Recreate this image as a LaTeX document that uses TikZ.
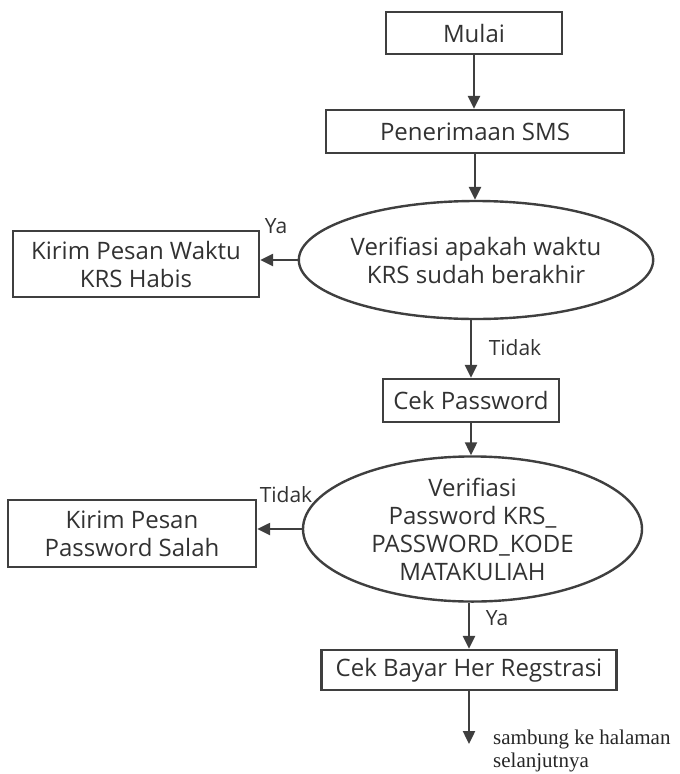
\documentclass[tikz,border=0pt]{standalone}
\usepackage{fontspec}
\setmainfont{Open Sans}
\newfontfamily\seriffont{Liberation Serif}
\usepackage{tikz}
\usetikzlibrary{shapes,arrows,positioning,calc,arrows.meta}
\definecolor{garis}{HTML}{3F3F3F}

\begin{document}
\begin{tikzpicture}[x=1pt, y=-1pt,
    line width=2.4pt, draw=garis,
    font=\fontsize{24}{28}\selectfont,
    box/.style={draw=garis, rectangle, align=center, inner sep=0pt, text=garis!80!black},
    cond/.style={draw=garis, ellipse, align=center, inner sep=0pt, text=garis!80!black},
    arr/.style={-{Triangle[length=13pt,width=12pt]}, draw=garis},
    lbl/.style={font=\fontsize{21}{24}\selectfont, text=garis!80!black}]
    \useasboundingbox (0,0) rectangle (680,774);

    \node [box, minimum width=176, minimum height=42] (mulai) at (474,33) {Mulai};
    \node [box, minimum width=298, minimum height=43] (sms) at (475,131.5) {Penerimaan SMS};
    \node [cond, minimum width=338, minimum height=118] (cekwaktu) at (476,260) {Verifiasi apakah waktu\\KRS sudah berakhir};
    \node [box, minimum width=246, minimum height=66] (habis) at (136,264) {Kirim Pesan Waktu\\KRS Habis};
    \node [box, minimum width=176, minimum height=43] (cekpw) at (471,400.5) {Cek Password};
    \node [cond, minimum width=339, minimum height=117] (verpw) at (472.5,529) {Verifiasi\\Password KRS\_\\PASSWORD\_KODE\\MATAKULIAH};
    \node [box, minimum width=248, minimum height=67] (salah) at (132,533.5) {Kirim Pesan\\Password Salah};
    \node [box, minimum width=295, minimum height=40] (bayar) at (469,670) {Cek Bayar Her Regstrasi};
    \coordinate (lanjut) at (469,744);

    \draw [arr] (mulai.south) -- (mulai.south |- sms.north);
    \draw [arr] (sms.south) -- (sms.south |- cekwaktu.north);
    \draw [arr] (cekwaktu.west) -- (cekwaktu.west -| habis.east);
    \draw [arr] (cekpw.north |- cekwaktu.south) -- (cekpw.north);
    \draw [arr] (cekpw.south) -- (cekpw.south |- verpw.north);
    \draw [arr] (verpw.west) -- (verpw.west -| salah.east);
    \draw [arr] (bayar.north |- verpw.south) -- (bayar.north);
    \draw [arr] (bayar.south) -- (lanjut);

    \node [lbl] (ya1) at (276,226) {Ya};
    \node [lbl] (tidak1) at (515,348) {Tidak};
    \node [lbl] (tidak2) at (286,495) {Tidak};
    \node [lbl] (ya2) at (497,618) {Ya};
    \node [anchor=west, align=left, inner sep=0pt, text=black!85, font=\seriffont\fontsize{21}{23}\selectfont] (ket) at (492,751) {sambung ke halaman\\selanjutnya};
\end{tikzpicture}
\end{document}
